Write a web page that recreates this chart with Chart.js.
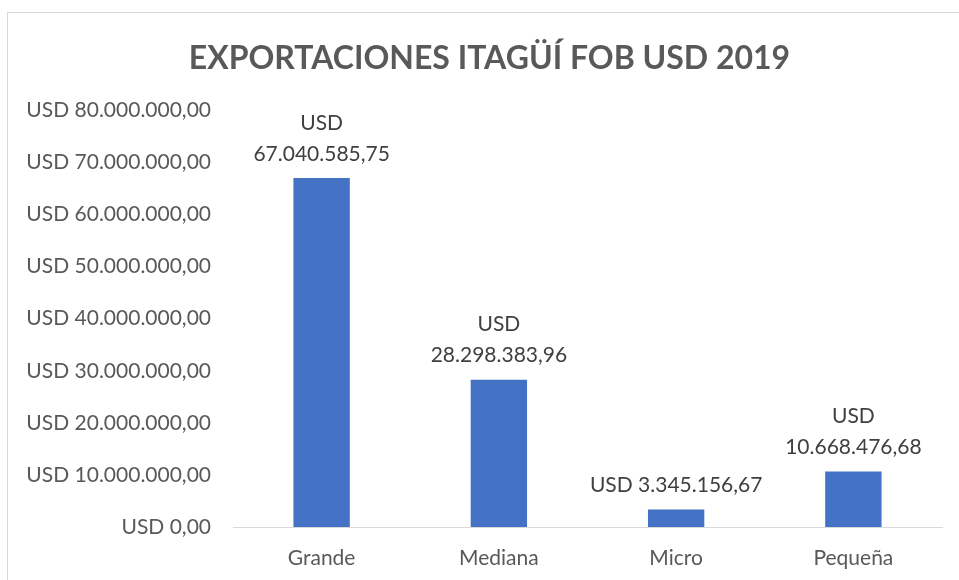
<!DOCTYPE html>
<html>
<head>
<meta charset="utf-8">
<script src="https://cdn.jsdelivr.net/npm/chart.js@4.4.1/dist/chart.umd.min.js"></script>
<style>
    html, body { margin: 0; padding: 0; background: #fff; }
    body { width: 959px; height: 580px; overflow: hidden; position: relative; }
    #frame { position: absolute; left: 7px; top: 12px; width: 1000px; height: 1000px; border: 1px solid #d9d9d9; box-sizing: border-box; }
    #wrap { position: absolute; left: 0; top: 0; width: 959px; height: 580px; }
</style>
</head>
<body>
<div id="frame"></div>
<div id="wrap"><canvas id="myChart" width="959" height="580"></canvas></div>
<script>
const categories = ['Grande', 'Mediana', 'Micro', 'Pequeña'];
const exportValues = [67040585.75, 28298383.96, 3345156.67, 10668476.68];
const yTicks = [0, 10000000, 20000000, 30000000, 40000000, 50000000, 60000000, 70000000, 80000000];
const chartTitle = 'EXPORTACIONES ITAGÜÍ FOB USD 2019';

const FONT = "Lato, 'Open Sans', sans-serif";

// formato 1.234.567,89
function usd(v) {
    let parts = v.toFixed(2).split('.');
    let ent = parts[0].replace(/\B(?=(\d{3})+(?!\d))/g, '.');
    return 'USD ' + ent + ',' + parts[1];
}

const barLabels = {
    id: 'barLabels',
    afterLayout(chart) {
        // el titulo va centrado sobre todo el marco, no solo el canvas
        if (chart.titleBlock) {
            chart.titleBlock.left = 20;
            chart.titleBlock.right = 959;
        }
    },
    afterDatasetsDraw(chart) {
        const ctx = chart.ctx;
        const meta = chart.getDatasetMeta(0);
        ctx.save();
        ctx.font = "21px " + FONT;
        ctx.fillStyle = '#404040';
        ctx.textAlign = 'center';
        ctx.textBaseline = 'middle';
        meta.data.forEach((bar, i) => {
            let txt = usd(exportValues[i]);
            let lines = txt.length > 16 ? ['USD', txt.slice(4)] : [txt];
            let y = bar.y - 24;
            for (let k = lines.length - 1; k >= 0; k--) {
                ctx.fillText(lines[k], bar.x, y);
                y -= 31;
            }
        });
        ctx.restore();
    }
};

const ctx = document.getElementById('myChart');
new Chart(ctx, {
    type: 'bar',
    data: {
        labels: categories,
        datasets: [{
            data: exportValues,
            backgroundColor: '#4472C4',
            borderWidth: 0,
            categoryPercentage: 1,
            barPercentage: 0.318
        }]
    },
    options: {
        responsive: false,
        animation: false,
        layout: { padding: { left: 0, right: 17, top: 0, bottom: 0 } },
        plugins: {
            legend: { display: false },
            tooltip: { enabled: false },
            title: {
                display: true,
                text: chartTitle,
                color: '#595959',
                font: { family: FONT, size: 32, weight: 'bold', lineHeight: 1.2 },
                padding: { top: 39, bottom: 33 }
            }
        },
        scales: {
            x: {
                grid: { display: false, drawTicks: false },
                border: { color: '#d9d9d9', width: 1 },
                ticks: { color: '#595959', font: { family: FONT, size: 21 }, padding: 19 },
                afterFit: (scale) => { scale.height = 53; }
            },
            y: {
                min: 0,
                max: 80000000,
                grid: { display: false, drawTicks: false },
                border: { display: false },
                afterBuildTicks: (scale) => { scale.ticks = yTicks.map(v => ({ value: v })); },
                ticks: {
                    color: '#595959',
                    font: { family: FONT, size: 21 },
                    padding: 22,
                    callback: (v) => usd(v)
                },
                afterFit: (scale) => { scale.width = 233; }
            }
        }
    },
    plugins: [barLabels]
});
</script>
</body>
</html>
